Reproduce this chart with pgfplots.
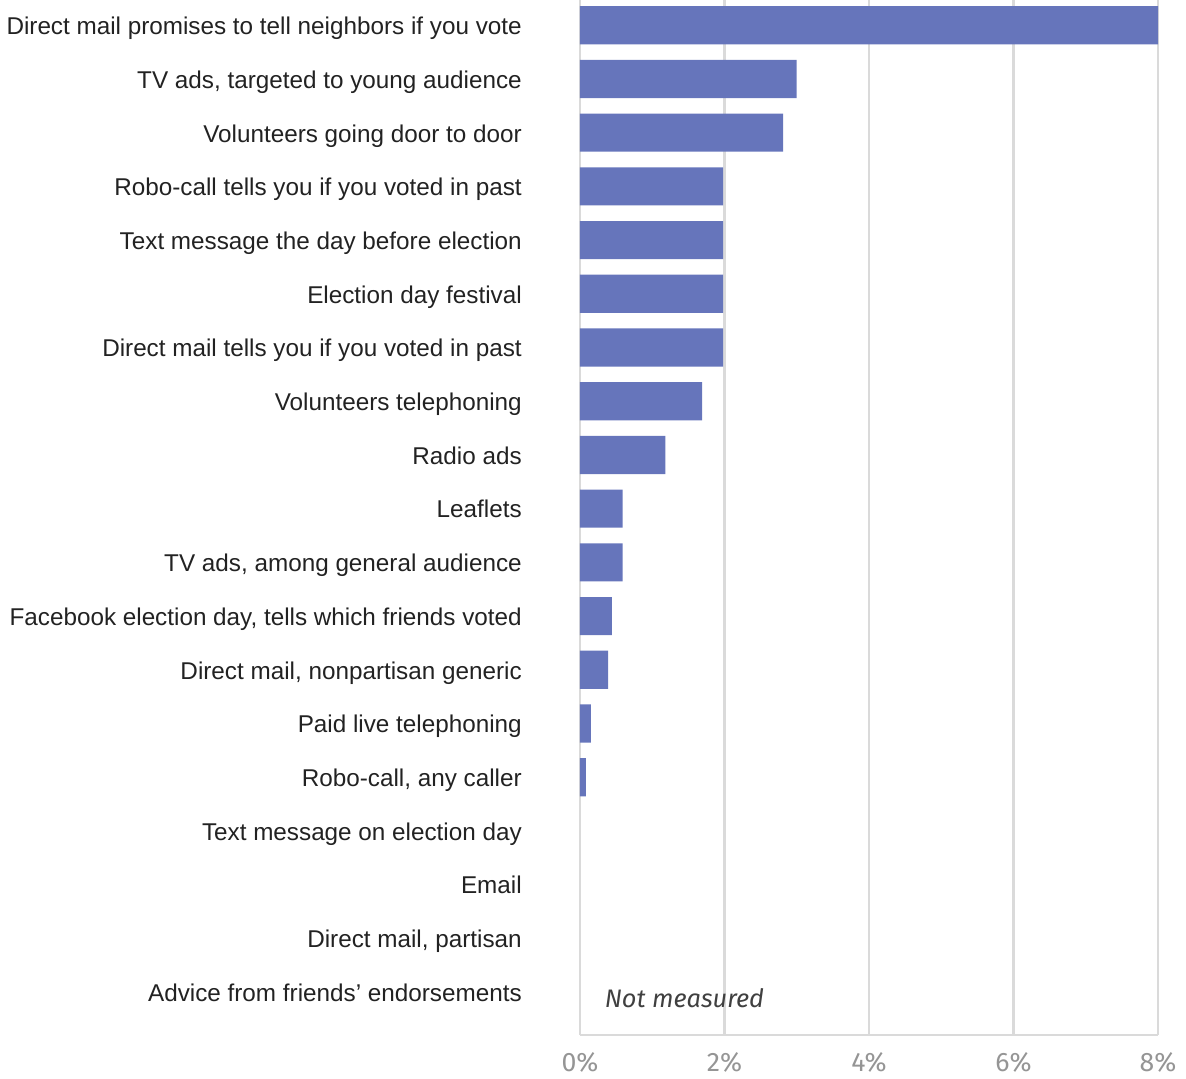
\documentclass[border=0pt]{standalone}
\usepackage{pgfplots}
\pgfplotsset{compat=1.18}
\usepackage{fontspec}
\setmainfont{Liberation Sans}
\newfontfamily\tickfont{Fira Sans}
\definecolor{barc}{HTML}{6675BB}
\definecolor{gridc}{HTML}{DADADA}
\definecolor{tickc}{HTML}{959595}
\definecolor{labc}{HTML}{222222}
\begin{document}
\begin{tikzpicture}
\begin{axis}[
  scale only axis,
  width=433.5pt, height=776.25pt,
  xbar, bar width=0.71,
  y dir=reverse,
  xmin=0, xmax=8,
  ymin=-0.47, ymax=18.8,
  xtick={0,2,4,6,8},
  xticklabels={0\%,2\%,4\%,6\%,8\%},
  ytick={0,...,18},
  yticklabels={
    Direct mail promises to tell neighbors if you vote,
    {TV ads, targeted to young audience},
    Volunteers going door to door,
    Robo-call tells you if you voted in past,
    Text message the day before election,
    Election day festival,
    Direct mail tells you if you voted in past,
    Volunteers telephoning,
    Radio ads,
    Leaflets,
    {TV ads, among general audience},
    {Facebook election day, tells which friends voted},
    {Direct mail, nonpartisan generic},
    Paid live telephoning,
    {Robo-call, any caller},
    Text message on election day,
    Email,
    {Direct mail, partisan},
    Advice from friends’ endorsements},
  major tick length=0pt,
  axis x line*=bottom,
  axis y line*=left,
  y axis line style={draw=none},
  x axis line style={draw=gridc, line width=1.6pt},
  xmajorgrids,
  grid style={draw=gridc, line width=1.6pt},
  xticklabel style={font=\tickfont\fontsize{20}{24}\selectfont, text=tickc, anchor=center, yshift=-20.5pt, inner sep=0pt},
  yticklabel style={font=\fontsize{18.2}{21}\selectfont, text=labc, anchor=base east, inner sep=0pt, xshift=-43.5pt, yshift=-7pt},
  clip=false,
]
\addplot[fill=barc, draw=none] coordinates {
  (8.0,0) (3.0,1) (2.81,2) (1.98,3) (1.98,4) (1.98,5) (1.98,6)
  (1.69,7) (1.18,8) (0.59,9) (0.59,10) (0.44,11) (0.39,12) (0.15,13) (0.08,14)
};
\node[anchor=west, font=\tickfont\itshape\fontsize{19}{22}\selectfont, text=black!75, inner sep=0pt] at (axis cs:0.34,18.12) {Not measured};
\coordinate (sw) at (rel axis cs:0,0);
\coordinate (ne) at (rel axis cs:1,1);
\end{axis}
\pgfresetboundingbox
\path[use as bounding box] ([xshift=-435pt,yshift=-32.25pt]sw) rectangle ([xshift=21pt]ne);
\end{tikzpicture}
\end{document}
